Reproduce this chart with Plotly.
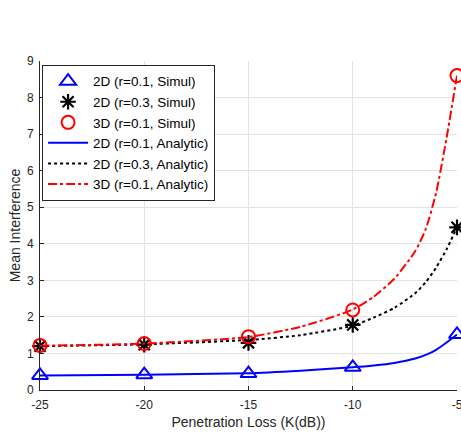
import plotly.graph_objects as go

# Simulation points
k_sim = [-25, -20, -15, -10, -5]
sim_2d_r01 = [0.40, 0.42, 0.45, 0.62, 1.52]
sim_2d_r03 = [1.20, 1.24, 1.29, 1.78, 4.45]
sim_3d_r01 = [1.22, 1.27, 1.46, 2.19, 8.60]

# Analytic curves
k_an_blue = [-25, -20, -15, -12.5, -10, -9, -8, -7, -6.5, -6, -5.5, -5]
an_2d_r01 = [0.40, 0.42, 0.46, 0.53, 0.62, 0.67, 0.74, 0.86, 0.96, 1.10, 1.30, 1.52]
k_an_black = [-25, -20, -15, -12.5, -10, -9, -8, -7, -6.5, -6, -5.5, -5]
an_2d_r03 = [1.20, 1.25, 1.37, 1.50, 1.76, 1.98, 2.25, 2.65, 2.95, 3.35, 3.85, 4.45]
k_an_red = [-25, -20, -15, -12.5, -10, -9, -8, -7, -6.5, -6, -5.5, -5]
an_3d_r01 = [1.21, 1.27, 1.45, 1.73, 2.20, 2.55, 3.05, 3.80, 4.40, 5.40, 6.90, 8.60]

x_ticks = [-25, -20, -15, -10, -5]
y_ticks = [0, 1, 2, 3, 4, 5, 6, 7, 8, 9]

FONT = "Liberation Sans, Arial, Helvetica, sans-serif"
AX = "#262626"
GRID = "#e3e3e3"

fig = go.Figure()

fig.add_trace(go.Scatter(x=k_sim, y=sim_2d_r01, mode="markers", name="2D (r=0.1, Simul)",
                         marker=dict(symbol="triangle-up-open", size=14, color="#0000ff",
                                     line=dict(width=2, color="#0000ff")), cliponaxis=False))
fig.add_trace(go.Scatter(x=k_sim, y=sim_2d_r03, mode="markers", name="2D (r=0.3, Simul)",
                         marker=dict(symbol="asterisk-open", size=13, color="#000000",
                                     line=dict(width=2.2, color="#000000")), cliponaxis=False))
fig.add_trace(go.Scatter(x=k_sim, y=sim_3d_r01, mode="markers", name="3D (r=0.1, Simul)",
                         marker=dict(symbol="circle-open", size=13, color="#ff0000",
                                     line=dict(width=2, color="#ff0000")), cliponaxis=False))
fig.add_trace(go.Scatter(x=k_an_blue, y=an_2d_r01, mode="lines", name="2D (r=0.1, Analytic)",
                         line=dict(color="#0000ff", width=2, shape="spline", smoothing=0.6), cliponaxis=False))
fig.add_trace(go.Scatter(x=k_an_black, y=an_2d_r03, mode="lines", name="2D (r=0.3, Analytic)",
                         line=dict(color="#000000", width=2, dash="dot", shape="spline", smoothing=0.6), cliponaxis=False))
fig.add_trace(go.Scatter(x=k_an_red, y=an_3d_r01, mode="lines", name="3D (r=0.1, Analytic)",
                         line=dict(color="#ff0000", width=2, dash="dashdot", shape="spline", smoothing=0.6), cliponaxis=False))

fig.update_layout(
    width=461, height=439,
    margin=dict(l=40, r=4, t=61, b=49),
    paper_bgcolor="white", plot_bgcolor="white",
    font=dict(family=FONT, size=12, color=AX),
    showlegend=True,
    legend=dict(x=0.005, y=0.988, xanchor="left", yanchor="top",
                bgcolor="white", bordercolor=AX, borderwidth=1,
                font=dict(family=FONT, size=13.5, color="#000000"),
                tracegroupgap=0, itemwidth=40),
    xaxis=dict(range=[-25, -5], tickvals=x_ticks, ticktext=[str(v) for v in x_ticks],
               showgrid=True, gridcolor=GRID, gridwidth=1, zeroline=False,
               showline=True, linecolor=AX, linewidth=1, mirror=False,
               ticks="inside", ticklen=4, tickcolor=AX, automargin=False,
               ticklabeloverflow="allow", ticklabelstandoff=4,
               title=dict(text="Penetration Loss (K(dB))", font=dict(size=14, color=AX), standoff=5),
               tickfont=dict(size=12, color=AX)),
    yaxis=dict(range=[0, 9], tickvals=y_ticks, ticktext=[str(v) for v in y_ticks],
               showgrid=True, gridcolor=GRID, gridwidth=1, zeroline=False,
               showline=True, linecolor=AX, linewidth=1, mirror=False,
               ticks="inside", ticklen=4, tickcolor=AX, automargin=False,
               ticklabelstandoff=3,
               title=dict(text="Mean Interference", font=dict(size=14, color=AX), standoff=3),
               tickfont=dict(size=12, color=AX)),
)

fig.write_html("out.html")
